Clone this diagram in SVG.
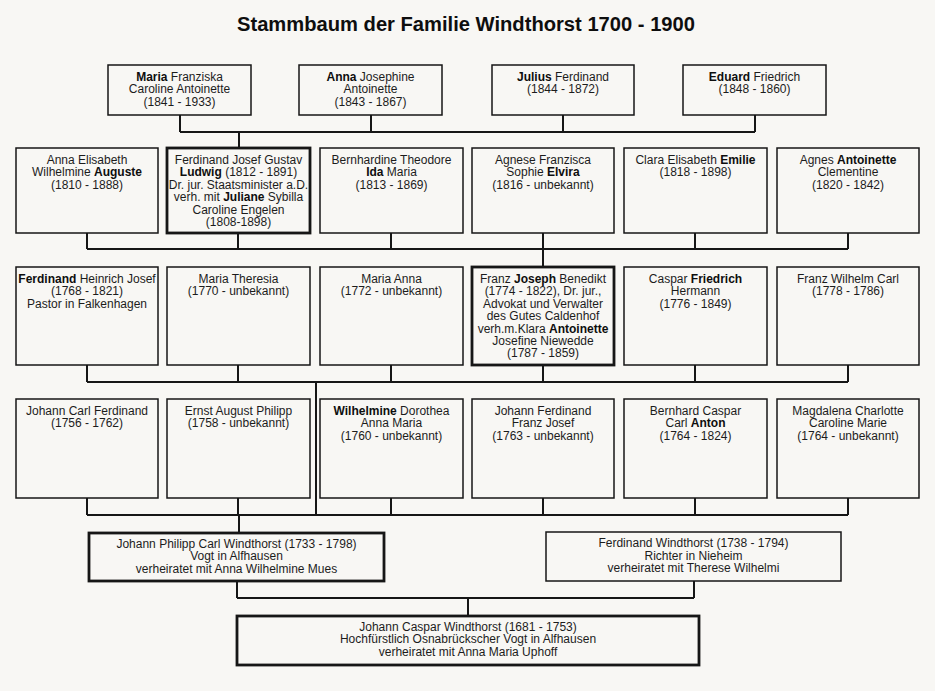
<svg xmlns="http://www.w3.org/2000/svg" width="935" height="691" viewBox="0 0 935 691">
<style>
  .bg{fill:#f8f7f4}
  .box{fill:none;stroke:#161616;stroke-width:1.5}
  .thick{fill:none;stroke:#161616;stroke-width:2.8}
  .t{font-family:"Liberation Sans",Arial,sans-serif;font-size:12px;fill:#1c1c1c;text-anchor:middle}
  .b{font-weight:bold;fill:#0e0e0e}
  .title{font-family:"Liberation Sans",Arial,sans-serif;font-size:20px;font-weight:bold;fill:#0e0e0e}
  .c{fill:none;stroke:#161616;stroke-width:2}
</style>
<rect class="bg" x="0" y="0" width="935" height="691"/>
<text class="title" x="237" y="31" textLength="458" lengthAdjust="spacingAndGlyphs">Stammbaum der Familie Windthorst 1700 - 1900</text>

<g id="connectors">
  <path class="c" d="M180 115V132M371 115V132M563 115V132M755 115V132M180 132H755M239 132V148"/>
  <path class="c" d="M87 233V249M238 233V249M391 233V249M543 233V249M695 233V249M848 233V249M87 249H848M543 249V267"/>
  <path class="c" d="M87 365V382M238 365V382M391 365V382M543 365V382M695 365V382M848 365V382M87 382H848M316 382V515"/>
  <path class="c" d="M87 498V515M238 498V515M391 498V515M543 498V515M695 498V515M848 498V515M87 515H848M239 515V533"/>
  <path class="c" d="M237 581V598M694 581V598M237 598H694M468 598V616"/>
</g>

<!-- Row 1 -->
<g id="maria"><rect class="box" x="108" y="65" width="143" height="50"/>
<text class="t" x="179.5" y="81"><tspan class="b">Maria</tspan> Franziska</text>
<text class="t" x="179.5" y="93.4">Caroline Antoinette</text>
<text class="t" x="179.5" y="105.8">(1841 - 1933)</text></g>
<g id="anna"><rect class="box" x="299" y="65" width="143" height="50"/>
<text class="t" x="370.5" y="81"><tspan class="b">Anna</tspan> Josephine</text>
<text class="t" x="370.5" y="93.4">Antoinette</text>
<text class="t" x="370.5" y="105.8">(1843 - 1867)</text></g>
<g id="julius"><rect class="box" x="492" y="65" width="142" height="50"/>
<text class="t" x="563" y="81"><tspan class="b">Julius</tspan> Ferdinand</text>
<text class="t" x="563" y="93.4">(1844 - 1872)</text></g>
<g id="eduard"><rect class="box" x="683" y="65" width="143" height="50"/>
<text class="t" x="754.5" y="81"><tspan class="b">Eduard</tspan> Friedrich</text>
<text class="t" x="754.5" y="93.4">(1848 - 1860)</text></g>

<!-- Row 2 -->
<g id="auguste"><rect class="box" x="16" y="148" width="142" height="85"/>
<text class="t" x="87" y="164">Anna Elisabeth</text>
<text class="t" x="87" y="176.4">Wilhelmine <tspan class="b">Auguste</tspan></text>
<text class="t" x="87" y="188.8">(1810 - 1888)</text></g>
<g id="ludwig"><rect class="thick" x="167" y="148" width="143" height="85"/>
<text class="t" x="238.5" y="164">Ferdinand Josef Gustav</text>
<text class="t" x="238.5" y="176.4"><tspan class="b">Ludwig</tspan> (1812 - 1891)</text>
<text class="t" x="238.5" y="188.8">Dr. jur. Staatsminister a.D.</text>
<text class="t" x="238.5" y="201.2">verh. mit <tspan class="b">Juliane</tspan> Sybilla</text>
<text class="t" x="238.5" y="213.6">Caroline Engelen</text>
<text class="t" x="238.5" y="226">(1808-1898)</text></g>
<g id="ida"><rect class="box" x="320" y="148" width="143" height="85"/>
<text class="t" x="391.5" y="164">Bernhardine Theodore</text>
<text class="t" x="391.5" y="176.4"><tspan class="b">Ida</tspan> Maria</text>
<text class="t" x="391.5" y="188.8">(1813 - 1869)</text></g>
<g id="elvira"><rect class="box" x="472" y="148" width="142" height="85"/>
<text class="t" x="543" y="164">Agnese Franzisca</text>
<text class="t" x="543" y="176.4">Sophie <tspan class="b">Elvira</tspan></text>
<text class="t" x="543" y="188.8">(1816 - unbekannt)</text></g>
<g id="emilie"><rect class="box" x="624" y="148" width="143" height="85"/>
<text class="t" x="695.5" y="164">Clara Elisabeth <tspan class="b">Emilie</tspan></text>
<text class="t" x="695.5" y="176.4">(1818 - 1898)</text></g>
<g id="antoinette"><rect class="box" x="777" y="148" width="142" height="85"/>
<text class="t" x="848" y="164">Agnes <tspan class="b">Antoinette</tspan></text>
<text class="t" x="848" y="176.4">Clementine</text>
<text class="t" x="848" y="188.8">(1820 - 1842)</text></g>

<!-- Row 3 -->
<g id="ferdinand-hj"><rect class="box" x="16" y="267" width="142" height="98"/>
<text class="t" x="87" y="283"><tspan class="b">Ferdinand</tspan> Heinrich Josef</text>
<text class="t" x="87" y="295.4">(1768 - 1821)</text>
<text class="t" x="87" y="307.8">Pastor in Falkenhagen</text></g>
<g id="maria-theresia"><rect class="box" x="167" y="267" width="143" height="98"/>
<text class="t" x="238.5" y="283">Maria Theresia</text>
<text class="t" x="238.5" y="295.4">(1770 - unbekannt)</text></g>
<g id="maria-anna"><rect class="box" x="320" y="267" width="143" height="98"/>
<text class="t" x="391.5" y="283">Maria Anna</text>
<text class="t" x="391.5" y="295.4">(1772 - unbekannt)</text></g>
<g id="joseph"><rect class="thick" x="472" y="267" width="142" height="98"/>
<text class="t" x="543" y="283">Franz <tspan class="b">Joseph</tspan> Benedikt</text>
<text class="t" x="543" y="295.4">(1774 - 1822), Dr. jur.,</text>
<text class="t" x="543" y="307.8">Advokat und Verwalter</text>
<text class="t" x="543" y="320.2">des Gutes Caldenhof</text>
<text class="t" x="543" y="332.6">verh.m.Klara <tspan class="b">Antoinette</tspan></text>
<text class="t" x="543" y="345">Josefine Niewedde</text>
<text class="t" x="543" y="357.4">(1787 - 1859)</text></g>
<g id="friedrich"><rect class="box" x="624" y="267" width="143" height="98"/>
<text class="t" x="695.5" y="283">Caspar <tspan class="b">Friedrich</tspan></text>
<text class="t" x="695.5" y="295.4">Hermann</text>
<text class="t" x="695.5" y="307.8">(1776 - 1849)</text></g>
<g id="franz-wilhelm"><rect class="box" x="777" y="267" width="142" height="98"/>
<text class="t" x="848" y="283">Franz Wilhelm Carl</text>
<text class="t" x="848" y="295.4">(1778 - 1786)</text></g>

<!-- Row 4 -->
<g id="johann-carl"><rect class="box" x="16" y="399" width="142" height="99"/>
<text class="t" x="87" y="415">Johann Carl Ferdinand</text>
<text class="t" x="87" y="427.4">(1756 - 1762)</text></g>
<g id="ernst-august"><rect class="box" x="167" y="399" width="143" height="99"/>
<text class="t" x="238.5" y="415">Ernst August Philipp</text>
<text class="t" x="238.5" y="427.4">(1758 - unbekannt)</text></g>
<g id="wilhelmine"><rect class="box" x="320" y="399" width="143" height="99"/>
<text class="t" x="391.5" y="415"><tspan class="b">Wilhelmine</tspan> Dorothea</text>
<text class="t" x="391.5" y="427.4">Anna Maria</text>
<text class="t" x="391.5" y="439.8">(1760 - unbekannt)</text></g>
<g id="johann-ferdinand"><rect class="box" x="472" y="399" width="142" height="99"/>
<text class="t" x="543" y="415">Johann Ferdinand</text>
<text class="t" x="543" y="427.4">Franz Josef</text>
<text class="t" x="543" y="439.8">(1763 - unbekannt)</text></g>
<g id="anton"><rect class="box" x="624" y="399" width="143" height="99"/>
<text class="t" x="695.5" y="415">Bernhard Caspar</text>
<text class="t" x="695.5" y="427.4">Carl <tspan class="b">Anton</tspan></text>
<text class="t" x="695.5" y="439.8">(1764 - 1824)</text></g>
<g id="magdalena"><rect class="box" x="777" y="399" width="142" height="99"/>
<text class="t" x="848" y="415">Magdalena Charlotte</text>
<text class="t" x="848" y="427.4">Caroline Marie</text>
<text class="t" x="848" y="439.8">(1764 - unbekannt)</text></g>

<!-- Row 5 -->
<g id="johann-philipp"><rect class="thick" x="89" y="533" width="295" height="48"/>
<text class="t" x="236.5" y="547.5">Johann Philipp Carl Windthorst (1733 - 1798)</text>
<text class="t" x="236.5" y="560">Vogt in Alfhausen</text>
<text class="t" x="236.5" y="572.5">verheiratet mit Anna Wilhelmine Mues</text></g>
<g id="ferdinand-w"><rect class="box" x="546" y="532" width="295" height="49"/>
<text class="t" x="693.5" y="547">Ferdinand Windthorst (1738 - 1794)</text>
<text class="t" x="693.5" y="559.5">Richter in Nieheim</text>
<text class="t" x="693.5" y="572">verheiratet mit Therese Wilhelmi</text></g>

<!-- Row 6 -->
<g id="johann-caspar"><rect class="thick" x="237" y="616" width="462" height="49"/>
<text class="t" x="468" y="630.5">Johann Caspar Windthorst (1681 - 1753)</text>
<text class="t" x="468" y="643">Hochfürstlich Osnabrückscher Vogt in Alfhausen</text>
<text class="t" x="468" y="655.5">verheiratet mit Anna Maria Uphoff</text></g>
</svg>
